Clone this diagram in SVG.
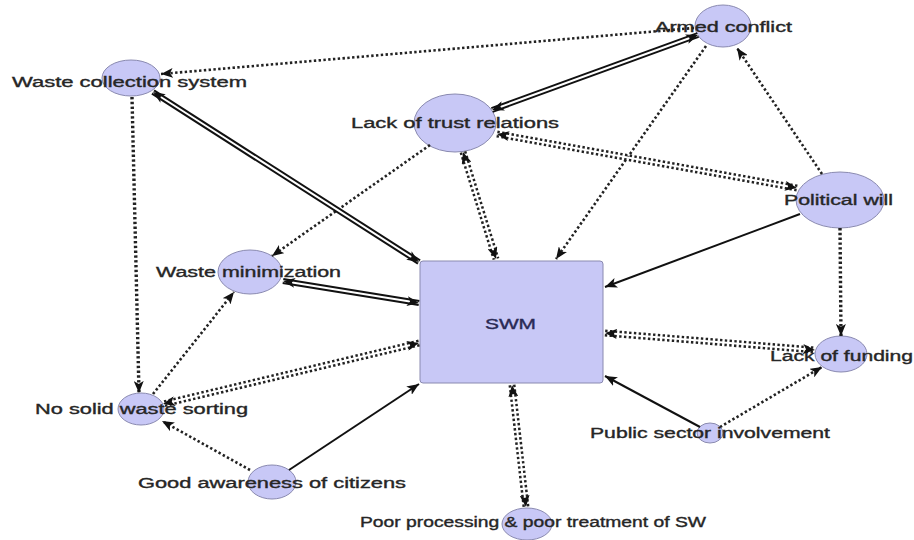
<svg xmlns="http://www.w3.org/2000/svg" width="914" height="540" viewBox="0 0 914 540">
<defs>
<marker id="ah" viewBox="0 0 12 10" refX="12" refY="5" markerWidth="12" markerHeight="10" markerUnits="userSpaceOnUse" orient="auto-start-reverse">
<path d="M0,0 L12,5 L0,10 L3,5 z" fill="#111"/>
</marker>
<style>
.n{fill:#c8c8f6;stroke:#8a8ab0;stroke-width:1}
.t{font-family:"Liberation Sans",Arial,sans-serif;font-size:14px;fill:#262626;stroke:#262626;stroke-width:0.35}
.s{fill:none;stroke:#111;stroke-width:2}
.d{fill:none;stroke:#222;stroke-width:2.6;stroke-dasharray:2.4 2.4}
.dt{fill:none;stroke:#222;stroke-width:3.4;stroke-dasharray:2.4 2.4}
.so{fill:none;stroke:#111;stroke-width:6}
.si{fill:none;stroke:#fff;stroke-width:2}
.do{fill:none;stroke:#222;stroke-width:7;stroke-dasharray:2.4 2.4}
.di{fill:none;stroke:#fff;stroke-width:2}
.m{fill:none;stroke:none}
.a{marker-end:url(#ah)}
.b{marker-start:url(#ah);marker-end:url(#ah)}
</style>
</defs>
<rect width="914" height="540" fill="#fff"/>
<g id="nodes">
<g id="n-wcs"><ellipse class="n" cx="131" cy="78" rx="29" ry="18"/><text class="t" x="12" y="87" textLength="235" lengthAdjust="spacingAndGlyphs">Waste collection system</text></g>
<g id="n-ac"><ellipse class="n" cx="723" cy="26" rx="28" ry="21"/><text class="t" x="655" y="32" textLength="137" lengthAdjust="spacingAndGlyphs">Armed conflict</text></g>
<g id="n-ltr"><ellipse class="n" cx="455" cy="123" rx="41" ry="29"/><text class="t" x="351" y="128" textLength="208" lengthAdjust="spacingAndGlyphs">Lack of trust relations</text></g>
<g id="n-pw"><ellipse class="n" cx="840" cy="200" rx="44" ry="28"/><text class="t" x="784" y="205" textLength="109" lengthAdjust="spacingAndGlyphs">Political will</text></g>
<g id="n-wm"><ellipse class="n" cx="250" cy="272" rx="32" ry="22"/><text class="t" x="156" y="277" textLength="185" lengthAdjust="spacingAndGlyphs">Waste minimization</text></g>
<g id="n-swm"><rect class="n" x="420" y="261" width="183" height="122" rx="3"/><text class="t" x="485" y="329" textLength="51" lengthAdjust="spacingAndGlyphs" style="fill:#2a2a55;stroke:#2a2a55">SWM</text></g>
<g id="n-lof"><ellipse class="n" cx="841" cy="354" rx="26" ry="18"/><text class="t" x="770" y="361" textLength="143" lengthAdjust="spacingAndGlyphs">Lack of funding</text></g>
<g id="n-nsws"><ellipse class="n" cx="141" cy="409" rx="23" ry="16"/><text class="t" x="35" y="414" textLength="213" lengthAdjust="spacingAndGlyphs">No solid waste sorting</text></g>
<g id="n-ps"><ellipse class="n" cx="710" cy="433" rx="13" ry="10"/><text class="t" x="590" y="438" textLength="240" lengthAdjust="spacingAndGlyphs">Public sector involvement</text></g>
<g id="n-ga"><ellipse class="n" cx="272" cy="482" rx="24" ry="17"/><text class="t" x="138" y="488" textLength="268" lengthAdjust="spacingAndGlyphs">Good awareness of citizens</text></g>
<g id="n-pp"><ellipse class="n" cx="527" cy="524" rx="25" ry="16"/><text class="t" x="360" y="527" textLength="346" lengthAdjust="spacingAndGlyphs">Poor processing &amp; poor treatment of SW</text></g>
</g>
<g id="connectors">
<path class="d a" d="M694,28 L161,74"/>
<path class="dt a" d="M132,97 L139,393"/>
<path class="d a" d="M430,145 L272,256"/>
<path class="d a" d="M706,46 L556,259"/>
<path class="d a" d="M822,174 L737,48"/>
<path class="dt a" d="M840,228 L841,336"/>
<path class="d a" d="M720,427 L822,367"/>
<path class="d a" d="M250,470 L162,421"/>
<path class="d a" d="M153,394 L234,292"/>
<path class="s a" d="M800,214 L605,287"/>
<path class="s a" d="M700,427 L605,376"/>
<path class="s a" d="M289,470 L419,384"/>
<path class="so" d="M492,110 L698,35"/><path class="si" d="M492,110 L698,35"/><path class="m b" d="M492,110 L698,35"/>
<path class="so" d="M153,92 L419,262"/><path class="si" d="M153,92 L419,262"/><path class="m b" d="M153,92 L419,262"/>
<path class="so" d="M283,281 L419,303"/><path class="si" d="M283,281 L419,303"/><path class="m b" d="M283,281 L419,303"/>
<path class="do" d="M463,152 L496,259"/><path class="di" d="M463,152 L496,259"/><path class="m b" d="M463,152 L496,259"/>
<path class="do" d="M497,134 L797,188"/><path class="di" d="M497,134 L797,188"/><path class="m b" d="M497,134 L797,188"/>
<path class="do" d="M605,333 L815,350"/><path class="di" d="M605,333 L815,350"/><path class="m b" d="M605,333 L815,350"/>
<path class="do" d="M512,385 L526,507"/><path class="di" d="M512,385 L526,507"/><path class="m b" d="M512,385 L526,507"/>
<path class="do" d="M419,343 L163,404"/><path class="di" d="M419,343 L163,404"/><path class="m b" d="M419,343 L163,404"/>
</g>
</svg>
